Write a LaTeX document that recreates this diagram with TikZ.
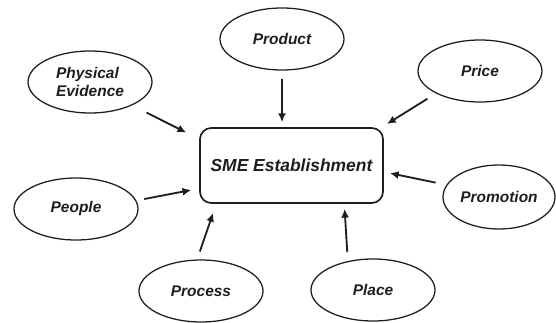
\documentclass[tikz,border=0pt]{standalone}
\usepackage{fontspec}
\setmainfont{Liberation Sans}
\usetikzlibrary{arrows.meta,shapes.geometric}
\definecolor{ink}{RGB}{30,30,30}
\tikzset{
  >={Latex[length=2.2mm,width=2mm]},
  element/.style={ellipse,draw=ink,line width=0.9pt,minimum width=3.1cm,minimum height=1.55cm,
    inner sep=0pt,align=center,text=ink,font=\fontsize{11}{12.8}\selectfont\bfseries\itshape},
  hub/.style={draw=ink,line width=1.2pt,rounded corners=8pt,minimum width=4.575cm,minimum height=1.875cm,
    text=ink,font=\fontsize{12.4}{14}\selectfont\bfseries\itshape},
  flow/.style={->,line width=1.3pt,draw=ink},
}
\begin{document}
\begin{tikzpicture}
    \useasboundingbox (0,0) rectangle (13.9,8.075);
    \node[hub] (sme) at (7.2875,3.9375) {SME Establishment};
    \node[element] (prod) at (7.05,7.1) {Product};
    \node[element,align=left] (pe) at (2.25,6.025) {Physical\\Evidence};
    \node[element] (price) at (12,6.3) {Price};
    \node[element] (people) at (1.9,2.85) {People};
    \node[element] (proc) at (5.025,0.8) {Process};
    \node[element] (place) at (9.325,0.825) {Place};
    \node[element,minimum width=2.8cm,minimum height=1.6cm] (promo) at (12.475,3.15) {Promotion};
    \draw[flow,shorten <=0.2cm,shorten >=0.125cm] (prod.south) -- (prod.south |- sme.north);
    \draw[flow,shorten <=0.4cm,shorten >=0.36cm] (pe.-29) -- (sme.164);
    \draw[flow,shorten <=0.25cm,shorten >=0.15cm] (price.-153) -- (sme.23);
    \draw[flow,shorten <=0.2cm,shorten >=0.2cm] (people.8) -- (sme.194);
    \draw[flow,shorten <=0.21cm,shorten >=0.24cm] (proc.97) -- (sme.207);
    \draw[flow,shorten <=0.225cm,shorten >=0.125cm] (place.131) -- (sme.-36);
    \draw[flow,shorten <=0.275cm,shorten >=0.155cm] (promo.167) -- (sme.-4);
  \end{tikzpicture}
\end{document}
